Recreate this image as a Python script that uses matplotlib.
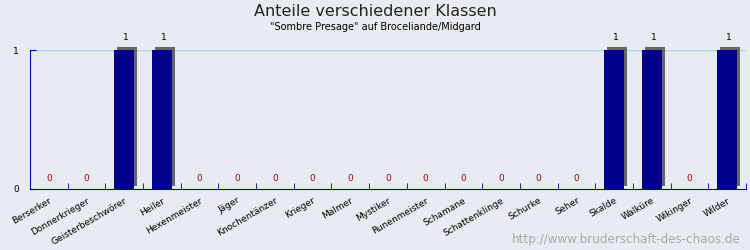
import numpy as np
import matplotlib
matplotlib.use('Agg')
import matplotlib.pyplot as plt

# Data
klassen = ['Berserker', 'Donnerkrieger', 'Geisterbeschwörer', 'Heiler', 'Hexenmeister',
           'Jäger', 'Knochentänzer', 'Krieger', 'Malmer', 'Mystiker', 'Runenmeister',
           'Schamane', 'Schattenklinge', 'Schurke', 'Seher', 'Skalde', 'Walküre',
           'Wikinger', 'Wilder']
anzahl = [0, 0, 1, 1, 0, 0, 0, 0, 0, 0, 0, 0, 0, 0, 0, 1, 1, 0, 1]

bg = '#E6ECF2'
fig = plt.figure(figsize=(7.5, 2.5), dpi=100, facecolor=bg)
ax = fig.add_axes([30 / 750, 1 - 189 / 250, 716 / 750, 139 / 250], facecolor=bg)

x = np.arange(len(klassen))
bw = 0.53
# schatten (3px rechts, 3px hoch)
dx = 3 / 716 * len(klassen)
dy = 3 / 139
for xi, v in zip(x, anzahl):
    if v > 0:
        ax.bar(xi + dx, v, bottom=dy, width=bw, color='#666666', zorder=2, clip_on=False)
ax.bar(x, anzahl, width=bw, color='#000088', zorder=3)

for xi, v in zip(x, anzahl):
    if v > 0:
        ax.text(xi + 0.05, v + 0.06, str(v), ha='center', va='bottom', fontsize=6.5, color='black')
    else:
        ax.text(xi, 0.045, str(v), ha='center', va='bottom', fontsize=6.5, color='#AA0000')

ax.set_xlim(-0.5, len(klassen) - 0.5)
ax.set_ylim(0, 1)
ax.axhline(1, color='#A8D8E8', lw=1, zorder=1)

for s in ['top', 'right']:
    ax.spines[s].set_visible(False)
ax.spines['left'].set_color('#0000AA')
ax.spines['bottom'].set_color('#0000AA')

ax.set_xticks(np.arange(len(klassen) + 1) - 0.5, minor=True)
ax.set_xticks(x)
ax.set_xticklabels(klassen, rotation=30, ha='right', rotation_mode='anchor', fontsize=6.5)
ax.tick_params(axis='x', which='major', length=0, pad=5)
ax.tick_params(axis='x', which='minor', direction='in', length=4, color='#0000AA')
ax.set_yticks([0, 1])
ax.set_yticklabels(['0', '1'], fontsize=6.5)
ax.tick_params(axis='y', direction='in', length=4, color='#0000AA', pad=8)

fig.text(0.5, 0.955, 'Anteile verschiedener Klassen', ha='center', va='center', fontsize=11.5, color='#222222')
fig.text(0.5, 0.893, '"Sombre Presage" auf Broceliande/Midgard', ha='center', va='center', fontsize=7)
fig.text(0.988, 0.04, 'http://www.bruderschaft-des-chaos.de', ha='right', va='center', fontsize=8.6, color='#AAAAAA')

plt.savefig('out.png', dpi=100, facecolor=bg)
